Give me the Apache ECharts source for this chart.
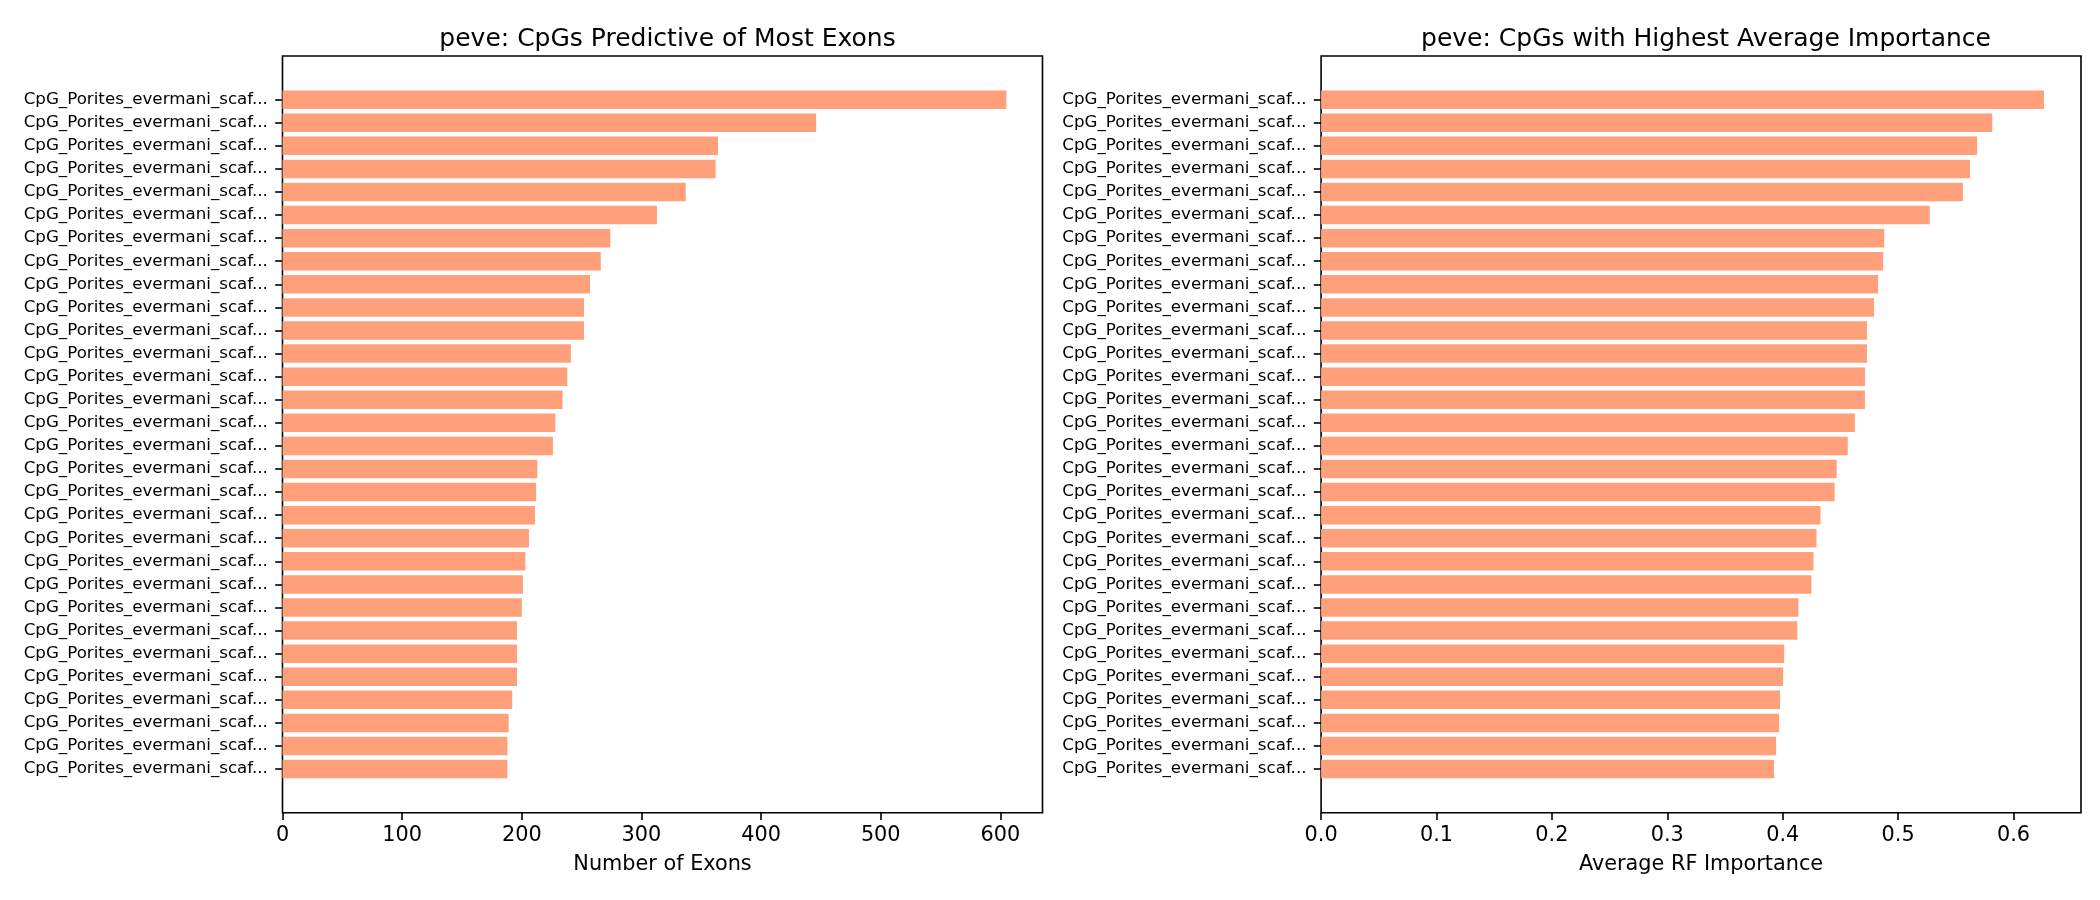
<!DOCTYPE html>
<html>
<head>
<meta charset="utf-8">
<script src="https://cdn.jsdelivr.net/npm/echarts@6/dist/echarts.min.js"></script>
<style>
html,body{margin:0;padding:0;background:#fff;}
#c{width:2100px;height:900px;}
</style>
</head>
<body>
<div id="c"></div>
<script>
// ---- data ----
const L = 'CpG_Porites_evermani_scaf...';
const leftCategories = [L,L,L,L,L,L,L,L,L,L,L,L,L,L,L,L,L,L,L,L,L,L,L,L,L,L,L,L,L,L];
const leftValues = [605, 446, 364, 362, 337, 313, 274, 266, 257, 252, 252, 241, 238, 234, 228,
                    226, 213, 212, 211, 206, 203, 201, 200, 196, 196, 196, 192, 189, 188, 188];
const rightCategories = [L,L,L,L,L,L,L,L,L,L,L,L,L,L,L,L,L,L,L,L,L,L,L,L,L,L,L,L,L,L];
const rightValues = [0.6264, 0.5816, 0.5685, 0.5623, 0.5562, 0.5274, 0.4880, 0.4871, 0.4827, 0.4792,
                     0.4731, 0.4731, 0.4713, 0.4713, 0.4625, 0.4564, 0.4468, 0.4450, 0.4328, 0.4293,
                     0.4267, 0.4249, 0.4136, 0.4127, 0.4013, 0.4004, 0.3978, 0.3969, 0.3943, 0.3925];
const leftTicks = [0, 100, 200, 300, 400, 500, 600];
const rightTicks = [0.0, 0.1, 0.2, 0.3, 0.4, 0.5, 0.6];
const leftTitle = 'peve: CpGs Predictive of Most Exons';
const rightTitle = 'peve: CpGs with Highest Average Importance';
const leftXName = 'Number of Exons';
const rightXName = 'Average RF Importance';

// ---- layout / style ----
const FONT = 'DejaVu Sans';
const BAR = '#FFA07A';
const INK = '#000';
const leftMax = 635.2, rightMax = 0.6585;
const frames = [
  {left: 282.5, right: 1057.5},
  {left: 1321.1, right: 19}
];
const frameTop = 56, frameBottom = 87.3;
const barTop = 88.1, barBottom = 119.4;

const chart = echarts.init(document.getElementById('c'), null, {renderer: 'canvas'});

function panel(i, cats, vals, max, interval, fmt, name) {
  const f = frames[i];
  return {
    grids: [
      {left: f.left, right: f.right, top: frameTop, bottom: frameBottom, show: true,
       borderColor: INK, borderWidth: 1.6, backgroundColor: 'transparent', containLabel: false},
      {left: f.left, right: f.right, top: barTop, bottom: barBottom, containLabel: false}
    ],
    xAxes: [
      {type: 'value', gridIndex: 2*i, min: 0, max: max, interval: interval,
       splitLine: {show: false}, axisLine: {show: false},
       axisTick: {show: true, length: 7.3, lineStyle: {color: INK, width: 1.6}},
       axisLabel: {show: true, margin: 12, fontFamily: FONT, fontSize: 20.8, color: INK,
                   formatter: fmt, showMaxLabel: false},
       name: name, nameLocation: 'middle', nameGap: 41,
       nameTextStyle: {fontFamily: FONT, fontSize: 20.8, color: INK}},
      {type: 'value', gridIndex: 2*i+1, min: 0, max: max, show: false}
    ],
    yAxes: [
      {type: 'value', gridIndex: 2*i, show: false, min: 0, max: 1},
      {type: 'category', gridIndex: 2*i+1, data: cats, inverse: true,
       axisLine: {show: false},
       axisTick: {show: true, alignWithLabel: true, interval: 0, length: 7.3,
                  lineStyle: {color: INK, width: 1.6}},
       axisLabel: {interval: 0, margin: 14.6, fontFamily: FONT, fontSize: 16.7, color: INK},
       splitLine: {show: false}}
    ],
    series: {
      type: 'bar', xAxisIndex: 2*i+1, yAxisIndex: 2*i+1, data: vals,
      barWidth: '80%', itemStyle: {color: BAR}, silent: true, animation: false
    }
  };
}

const p0 = panel(0, leftCategories, leftValues, leftMax, 100,
  v => (leftTicks.indexOf(v) >= 0 ? String(v) : ''), leftXName);
const p1 = panel(1, rightCategories, rightValues, rightMax, 0.1,
  v => { const r = Math.round(v * 10) / 10; return rightTicks.indexOf(r) >= 0 ? r.toFixed(1) : ''; }, rightXName);

const option = {
  backgroundColor: '#fff',
  animation: false,
  title: [
    {text: leftTitle, left: 662.5, top: 22, textAlign: 'center',
     textStyle: {fontFamily: FONT, fontSize: 25, fontWeight: 'normal', color: INK}},
    {text: rightTitle, left: 1701, top: 22, textAlign: 'center',
     textStyle: {fontFamily: FONT, fontSize: 25, fontWeight: 'normal', color: INK}}
  ],
  grid: [...p0.grids, ...p1.grids],
  xAxis: [...p0.xAxes, ...p1.xAxes],
  yAxis: [...p0.yAxes, ...p1.yAxes],
  series: [p0.series, p1.series]
};
chart.setOption(option);
</script>
</body>
</html>
